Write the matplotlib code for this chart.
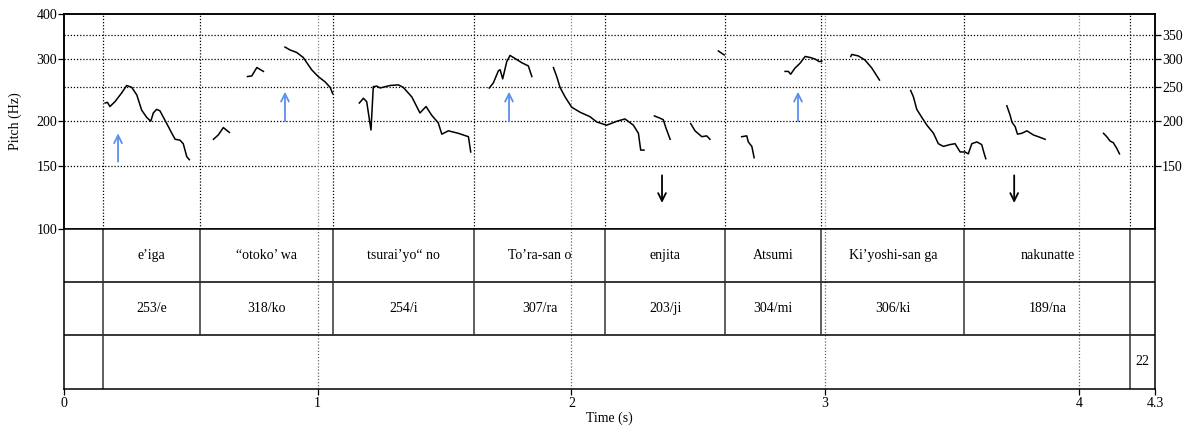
import numpy as np
import matplotlib
matplotlib.use("Agg")
import matplotlib.pyplot as plt
from matplotlib.ticker import FixedLocator, NullLocator, FixedFormatter

plt.rcParams['font.family'] = ['Liberation Serif', 'DejaVu Serif']
plt.rcParams['font.size'] = 10

nan = np.nan

# pitch track (s, Hz), NaN separates the voiced stretches
pitch_time = [
    0.162, 0.171, 0.181, 0.201, 0.227, 0.247, 0.267, 0.287, 0.306, 0.326, 0.342,
    0.352, 0.365, 0.378, 0.405, 0.425, 0.438, 0.457, 0.470, 0.484, 0.494, nan,
    0.589, 0.608, 0.628, 0.652, nan,
    0.723, 0.740, 0.760, 0.786, nan,
    0.871, 0.891, 0.917, 0.943, 0.976, 1.002, 1.029, 1.049, 1.059, nan,
    1.164, 1.180, 1.193, 1.210, 1.219, 1.233, 1.246, 1.285, 1.318, 1.337, 1.371,
    1.403, 1.427, 1.449, 1.475, 1.489, 1.515, 1.554, 1.594, 1.603, nan,
    1.676, 1.692, 1.712, 1.719, 1.729, 1.745, 1.758, 1.778, 1.804, 1.830, 1.844, nan,
    1.929, 1.942, 1.955, 1.975, 2.001, 2.034, 2.073, 2.100, 2.139, 2.179, 2.211,
    2.244, 2.264, 2.273, 2.286, nan,
    2.327, 2.349, 2.362, 2.373, 2.389, nan,
    2.470, 2.487, 2.514, 2.533, 2.546, nan,
    2.579, 2.602, nan,
    2.671, 2.691, 2.697, 2.711, 2.720, nan,
    2.842, 2.855, 2.864, 2.881, 2.901, 2.921, 2.941, 2.960, 2.977, 2.987, nan,
    3.101, 3.105, 3.131, 3.157, 3.184, 3.214, nan,
    3.337, 3.348, 3.361, 3.381, 3.401, 3.427, 3.446, 3.466, 3.492, 3.512, 3.532,
    3.551, 3.564, 3.578, 3.598, 3.617, 3.626, 3.633, nan,
    3.716, 3.729, 3.736, 3.749, 3.758, 3.775, 3.795, 3.821, 3.840, 3.867, nan,
    4.097, 4.110, 4.123, 4.136, 4.149, 4.160,
]
pitch_hz = [
    225, 226, 220, 227, 240, 252, 249, 237, 215, 205, 200,
    211, 216, 214, 197, 185, 178, 177, 173, 159, 156, nan,
    178, 183, 192, 186, nan,
    267, 268, 283, 276, nan,
    323, 317, 312, 302, 279, 267, 258, 249, 239, nan,
    225, 232, 227, 189, 250, 251, 248, 252, 253, 249, 234,
    211, 220, 208, 198, 184, 188, 185, 181, 164, nan,
    248, 256, 277, 279, 263, 294, 306, 300, 292, 286, 267, nan,
    283, 267, 249, 234, 219, 212, 206, 199, 195, 200, 203,
    195, 185, 166, 166, nan,
    207, 204, 202, 191, 178, nan,
    197, 188, 181, 182, 178, nan,
    315, 307, nan,
    181, 182, 175, 170, 158, nan,
    276, 276, 271, 282, 291, 304, 302, 299, 294, 295, nan,
    304, 308, 305, 297, 282, 261, nan,
    244, 234, 216, 205, 195, 185, 173, 170, 172, 173, 164,
    164, 162, 173, 175, 172, 163, 157, nan,
    221, 208, 199, 193, 184, 185, 188, 183, 181, 178, nan,
    185, 181, 176, 174, 168, 162,
]

# TextGrid
t_end = 4.3
word_bounds = [0.154, 0.536, 1.0615, 1.616, 2.132, 2.606, 2.984, 3.549, 4.202]
words = ["e\u2019iga", "\u201cotoko\u2019 wa", "tsurai\u2019yo\u201c no", "To\u2019ra-san o",
         "enjita", "Atsumi", "Ki\u2019yoshi-san ga", "nakunatte"]
peaks = ["253/e", "318/ko", "254/i", "307/ra", "203/ji", "304/mi", "306/ki", "189/na"]
tier3_bounds = [0.154, 4.202]
tier3_text = "22"

# accent arrows
up_arrow_t = [0.213, 0.871, 1.754, 2.893]
up_arrow_from = [154, 200, 200, 200]
up_arrow_to = [185, 242, 242, 242]
down_arrow_t = [2.357, 3.745]

left_ticks = [100, 150, 200, 300, 400]
right_ticks = [150, 200, 250, 300, 350]
time_ticks = [0, 1, 2, 3, 4, 4.3]

fig = plt.figure(figsize=(11.87, 4.28), dpi=100)
ax = fig.add_axes([64 / 1187, 1 - 228.5 / 428, 1091 / 1187, 214.5 / 428])
axt = fig.add_axes([64 / 1187, 1 - 388.5 / 428, 1091 / 1187, 160 / 428], sharex=ax)

dot = (0, (1, 1.5))

# pitch panel
ax.set_yscale('log')
ax.set_ylim(100, 400)
ax.set_xlim(0, t_end)
for h in right_ticks:
    ax.axhline(h, color='black', lw=0.9, ls=dot)
for b in word_bounds:
    ax.axvline(b, color='black', lw=0.9, ls=dot)
for g in [1, 2, 3, 4]:
    ax.axvline(g, color='#888888', lw=0.9, ls=dot)
    axt.axvline(g, color='#666666', lw=0.9, ls=dot)
ax.plot(pitch_time, pitch_hz, color='black', lw=1.1)

for t, a, b in zip(up_arrow_t, up_arrow_from, up_arrow_to):
    ax.annotate('', xy=(t, b), xytext=(t, a),
                arrowprops=dict(arrowstyle='->', color='#5b8ff0', lw=1.3,
                                mutation_scale=14, shrinkA=0, shrinkB=0))
for t in down_arrow_t:
    ax.annotate('', xy=(t, 118), xytext=(t, 141),
                arrowprops=dict(arrowstyle='->', color='black', lw=1.3,
                                mutation_scale=14, shrinkA=0, shrinkB=0))

ax.yaxis.set_major_locator(FixedLocator(left_ticks))
ax.yaxis.set_major_formatter(FixedFormatter([str(v) for v in left_ticks]))
ax.yaxis.set_minor_locator(NullLocator())
ax.tick_params(axis='y', direction='out', length=4, width=0.9, pad=1, labelsize=10)
ax.tick_params(axis='x', bottom=False, labelbottom=False)
ax.set_ylabel('Pitch (Hz)', fontsize=10, labelpad=10)

axr = ax.twinx()
axr.set_yscale('log')
axr.set_ylim(100, 400)
axr.yaxis.set_major_locator(FixedLocator(right_ticks))
axr.yaxis.set_major_formatter(FixedFormatter([str(v) for v in right_ticks]))
axr.yaxis.set_minor_locator(NullLocator())
axr.tick_params(axis='y', direction='out', length=4, width=0.9, pad=1, labelsize=10)
for a in (ax, axr):
    for s in a.spines.values():
        s.set_linewidth(1.1)

# tiers
axt.set_ylim(3, 0)
axt.set_yticks([])
for y in [1, 2]:
    axt.axhline(y, color='black', lw=1.1)
for b in word_bounds:
    axt.plot([b, b], [0, 2], color='#333333', lw=1.1)
for b in tier3_bounds:
    axt.plot([b, b], [2, 3], color='#333333', lw=1.1)

edges = word_bounds
for i, (w, p) in enumerate(zip(words, peaks)):
    mid = (edges[i] + edges[i + 1]) / 2
    axt.text(mid, 0.5, w, ha='center', va='center', fontsize=10)
    axt.text(mid, 1.5, p, ha='center', va='center', fontsize=10)
axt.text((tier3_bounds[1] + t_end) / 2, 2.5, tier3_text, ha='center', va='center', fontsize=10)

axt.set_xticks(time_ticks)
axt.set_xticklabels(['0', '1', '2', '3', '4', '4.3'])
axt.tick_params(axis='x', direction='out', length=4, width=0.9, pad=2, labelsize=10)
axt.set_xlabel('Time (s)', fontsize=10, labelpad=1)
for s in axt.spines.values():
    s.set_linewidth(1.1)
axt.spines['top'].set_visible(False)

fig.savefig('out.png', dpi=100)
